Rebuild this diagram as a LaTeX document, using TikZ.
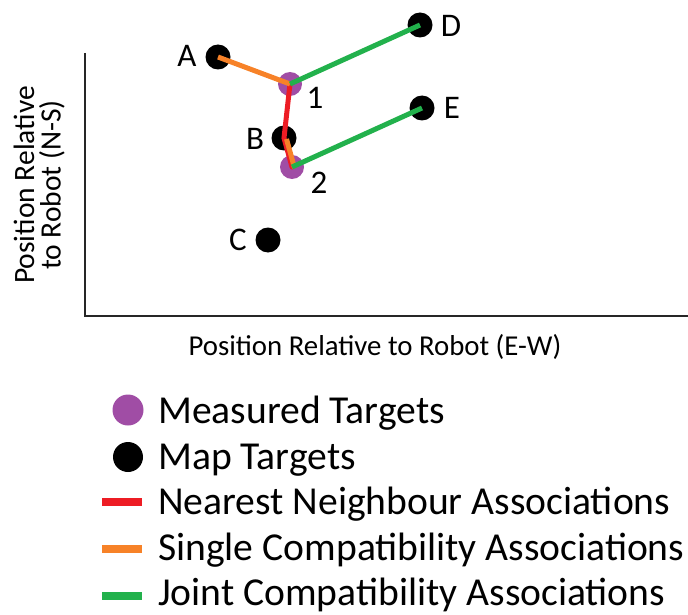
\documentclass[tikz,border=0pt]{standalone}
\usepackage{fontspec}
\setmainfont{Carlito}
\definecolor{mpurple}{RGB}{160,77,165}
\definecolor{mred}{RGB}{237,28,36}
\definecolor{morange}{RGB}{247,130,40}
\definecolor{mgreen}{RGB}{34,177,76}
\begin{document}
\begin{tikzpicture}[x=1pt,y=-1pt,
  mapdot/.style={circle,fill=black,minimum size=25pt,inner sep=0pt},
  measdot/.style={circle,fill=mpurple,minimum size=24pt,inner sep=0pt},
  ptlabel/.style={inner sep=0pt,font=\fontsize{33}{36}\selectfont},
  assoc/.style={line width=5pt},
  legtext/.style={anchor=base west,inner sep=0pt,font=\fontsize{39.6}{42}\selectfont},
  legline/.style={line width=8pt},
  axlabel/.style={inner sep=0pt,font=\fontsize{28.8}{30}\selectfont},
  axis/.style={line width=1.6pt,black!85}]
\useasboundingbox (0,0) rectangle (688,615);
% axes
\coordinate (ytop) at (85,53);
\coordinate (orig) at (85,316);
\coordinate (xend) at (688,316);
\draw[axis] (ytop) -- (orig) -- (xend);
\node[axlabel] (xlab) at (375,347) {Position Relative to Robot (E-W)};
\node[axlabel,font=\fontsize{29.5}{30}\selectfont,rotate=90] (ylab1) at (24,185) {Position Relative};
\node[axlabel,font=\fontsize{29.5}{30}\selectfont,rotate=90] (ylab2) at (52,185) {to Robot (N-S)};
% targets
\node[measdot] (m1) at (290,84) {};
\node[measdot] (m2) at (292,167) {};
\node[mapdot] (A) at (218,57) {};
\node[mapdot] (D) at (420,25) {};
\node[mapdot] (E) at (422,108) {};
\node[mapdot] (B) at (284,138) {};
\node[mapdot] (C) at (268,240) {};
% labels
\node[ptlabel] (lA) at (187,56) {A};
\node[ptlabel] (lD) at (451,26) {D};
\node[ptlabel] (l1) at (315,98) {1};
\node[ptlabel] (lE) at (452,108) {E};
\node[ptlabel] (lB) at (255,139) {B};
\node[ptlabel] (l2) at (319,183) {2};
\node[ptlabel] (lC) at (238,240) {C};
% associations
\draw[assoc,mred,line cap=round] (m1.center) -- (B.center) -- (m2.center);
\draw[assoc,morange] (A.center) -- (m1.center);
\draw[assoc,morange,transform canvas={shift={(2.5pt,-1pt)}}] (B.center) -- (m2.center);
\draw[assoc,mgreen] (m1.center) -- (D.center);
\draw[assoc,mgreen] (m2.center) -- (E.center);
% legend
\node[measdot,minimum size=31pt] (lgm) at (128,410) {};
\node[mapdot,minimum size=30pt] (lgk) at (128,457) {};
\coordinate (r1) at (102,502); \coordinate (r2) at (142,502);
\coordinate (o1) at (102,549); \coordinate (o2) at (142,549);
\coordinate (g1) at (102,596); \coordinate (g2) at (142,596);
\draw[legline,mred] (r1) -- (r2);
\draw[legline,morange] (o1) -- (o2);
\draw[legline,mgreen] (g1) -- (g2);
\node[legtext] (t1) at (158,423) {Measured Targets};
\node[legtext] (t2) at (158,469) {Map Targets};
\node[legtext] (t3) at (158,514) {Nearest Neighbour Associations};
\node[legtext] (t4) at (158,560) {Single Compatibility Associations};
\node[legtext] (t5) at (158,605) {Joint Compatibility Associations};
\end{tikzpicture}
\end{document}
